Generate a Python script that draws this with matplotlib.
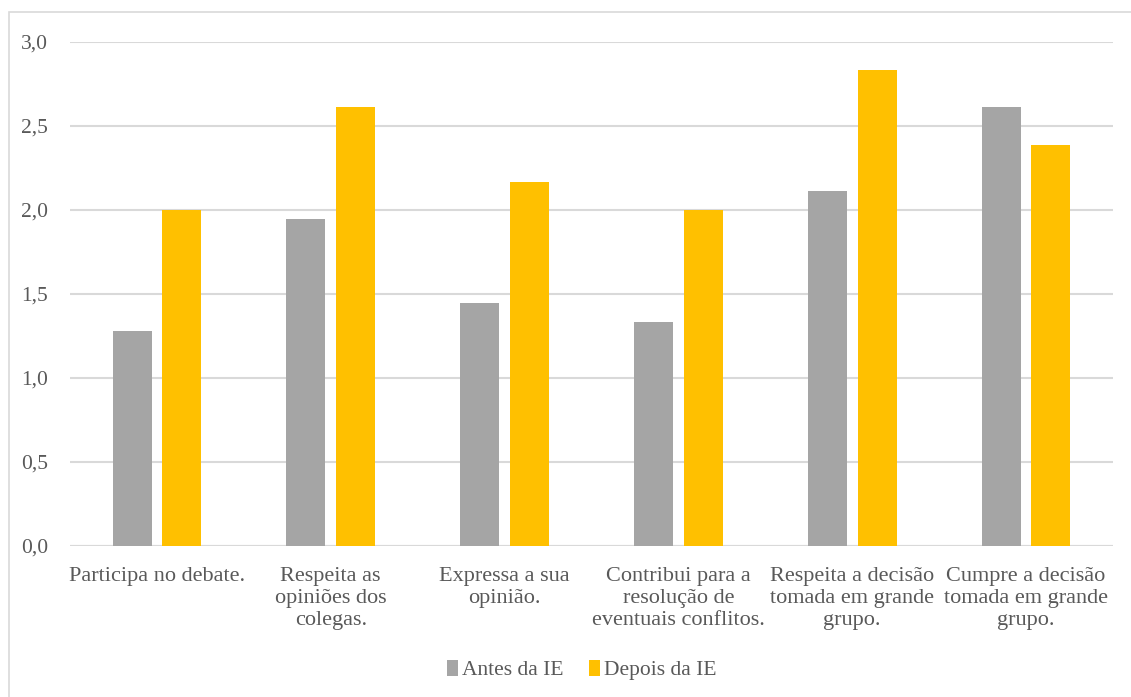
import matplotlib
matplotlib.use("Agg")
import matplotlib.pyplot as plt
import numpy as np
from matplotlib.patches import Rectangle

categories = [
    "Participa no debate.",
    "Respeita as\nopiniões dos\ncolegas.",
    "Expressa a sua\nopinião.",
    "Contribui para a\nresolução de\neventuais conflitos.",
    "Respeita a decisão\ntomada em grande\ngrupo.",
    "Cumpre a decisão\ntomada em grande\ngrupo.",
]
antes = [1.278, 1.944, 1.444, 1.333, 2.111, 2.611]
depois = [2.0, 2.611, 2.167, 2.0, 2.833, 2.389]
series_names = ["Antes da IE", "Depois da IE"]
yticks = [0.0, 0.5, 1.0, 1.5, 2.0, 2.5, 3.0]

plt.rcParams['font.family'] = ['Liberation Serif', 'DejaVu Serif']
txt = '#595959'

fig = plt.figure(figsize=(11.31, 6.97), dpi=100)
ax = fig.add_axes([70/1131, 1-546/697, (1113-70)/1131, (546-42)/697])

# outer chart border
fig.patches.append(Rectangle((9/1131, -0.1), 1.2, 1-12/697+0.1, transform=fig.transFigure,
                             fill=False, edgecolor='#d9d9d9', linewidth=1.2))

x = np.arange(len(categories))
w = 0.225
off = 0.143
ax.bar(x - off, antes, w, color='#A5A5A5', label=series_names[0], zorder=3)
ax.bar(x + off, depois, w, color='#FFC000', label=series_names[1], zorder=3)

ax.set_xlim(-0.5, len(categories) - 0.5)
ax.set_ylim(0, 3.0)
ax.set_yticks(yticks)
ax.set_yticklabels([f"{v:.1f}".replace('.', ',') for v in yticks], color=txt, fontsize=15.5)
ax.yaxis.grid(True, color='#d9d9d9', linewidth=1.5, zorder=0)
ax.set_xticks(x)
ax.set_xticklabels(categories, color=txt, fontsize=16, linespacing=1.22)
ax.tick_params(axis='both', length=0)
ax.tick_params(axis='y', pad=16)
ax.tick_params(axis='x', pad=15)
for s in ax.spines.values():
    s.set_visible(False)
ax.axhline(0, color='#d9d9d9', linewidth=1.5, zorder=2)

leg = fig.legend(loc='center', bbox_to_anchor=(582/1131, 1-670/697), ncol=2, frameon=False,
                 fontsize=15.5, handlelength=0.5, handleheight=0.75, handletextpad=0.2,
                 columnspacing=1.2)
for t in leg.get_texts():
    t.set_color(txt)

fig.savefig("out.png", dpi=100)
